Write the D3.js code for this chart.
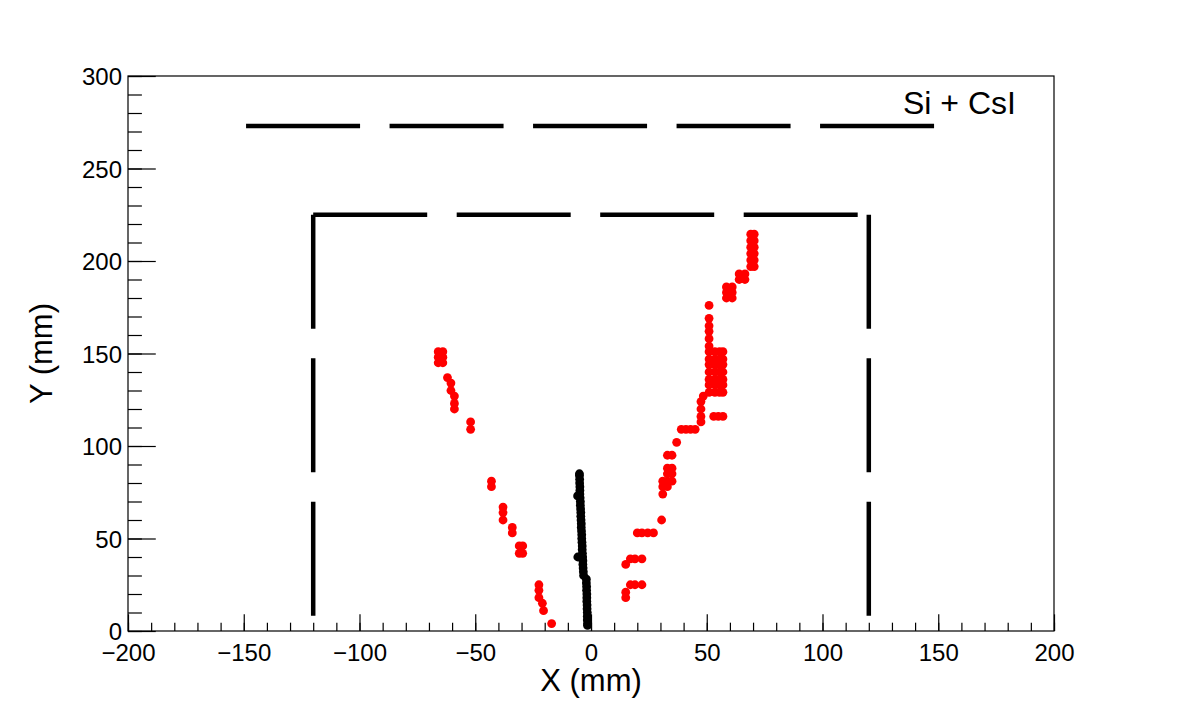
<!DOCTYPE html>
<html>
<head>
<meta charset="utf-8">
<script src="https://cdn.jsdelivr.net/npm/d3@7"></script>
<style>
  body { margin: 0; background: #fff; }
  text { font-family: "Liberation Sans", Arial, sans-serif; }
</style>
</head>
<body>
<script>
// Red hits (x, y in mm)
const redX = [
  -66, -64, -66, -64, -66, -64,
  -62, -60.5, -60.5, -59, -59, -59,
  -52, -52,
  -43, -43,
  -38, -38, -38,
  -34, -34,
  -31, -29.5, -31, -29.5,
  -22.5, -22.5, -22.5, -21, -20.5,
  -17,
  15, 15, 17, 19, 22,
  15, 17, 19, 22,
  20, 22, 24.5, 27,
  30.5,
  31, 31, 33, 31, 33, 35, 33, 35, 33, 35,
  33, 35,
  37,
  39, 41, 43, 45,
  47.5, 47.5, 53, 55, 57,
  47.5, 47.5, 48.5,
  51, 51, 51, 51, 51, 51, 51, 51, 51, 51, 51, 51, 51,
  53.5, 53.5, 53.5, 53.5, 53.5, 53.5, 53.5,
  55.5, 55.5, 55.5, 55.5, 55.5, 55.5, 55.5,
  57, 57, 57, 57, 57, 57, 57,
  58.5, 61, 58.5, 61, 58.5, 61,
  64, 66.5, 64, 66.5,
  69, 70.5, 69, 70.5, 69, 70.5, 69, 70.5, 69, 70.5, 69, 70.5
];
const redY = [
  151, 151, 148, 148, 145, 145,
  137, 134, 130, 127, 123, 120,
  113, 109,
  81, 78,
  67, 64, 60,
  56, 53,
  46, 46, 42, 42,
  25, 22, 18, 15, 11,
  4,
  18, 21, 25, 25, 25,
  36, 39, 39, 39,
  53, 53, 53, 53,
  60,
  74, 78, 78, 81, 81, 81, 85, 85, 88, 88,
  95, 95,
  102,
  109, 109, 109, 109,
  113, 116, 116, 116, 116,
  120, 124, 127,
  129, 133, 136, 140, 144, 147, 151, 154, 158, 162, 165, 169, 176,
  129, 133, 136, 140, 144, 147, 151,
  129, 133, 136, 140, 144, 147, 151,
  129, 133, 136, 140, 144, 147, 151,
  180, 180, 183, 183, 186, 186,
  190, 190, 193, 193,
  197, 197, 200.5, 200.5, 204, 204, 207.5, 207.5, 211, 211, 214.5, 214.5
];

// Black hits (x, y in mm)
const blackX = [
  -5.0, -5.0, -4.9, -4.9, -4.8, -4.8, -4.8, -5.8, -4.7, -4.6, -4.6, -4.5,
  -4.4, -4.4, -4.3, -4.2, -4.2, -4.1, -4.0, -4.0, -3.9, -3.8, -3.8, -3.7,
  -5.7, -3.6, -3.5, -3.5, -3.4, -3.3, -3.2, -2.0, -2.0, -1.9, -1.9, -1.8,
  -1.8, -1.8, -1.7, -1.7, -1.6, -1.6, -1.6, -1.5, -1.5
];
const blackY = [
  85, 84, 82, 80, 78, 76, 74, 73, 72, 70, 68, 66,
  64, 62, 60, 58, 56, 54, 52, 50, 48, 46, 44, 42,
  40, 40, 38, 36, 34, 32, 30, 28, 26, 24, 22, 20,
  18, 16, 14, 12, 10, 8, 6, 4, 3
];

// Detector outlines (mm), each side drawn as its own segment
const siCsiSegs = [[[-149, 273], [149, 273]]];
const boxSegs = [
  [[-120, 225], [-120, 0]],
  [[120, 225], [120, 0]],
  [[-120, 225], [120, 225]]
];

const xMajor = [-200, -150, -100, -50, 0, 50, 100, 150, 200];
const yMajor = [0, 50, 100, 150, 200, 250, 300];
const xMinor = d3.range(-200, 201, 10);
const yMinor = d3.range(0, 301, 10);

const W = 1182, H = 709;
const m = { left: 128, right: 128, top: 76, bottom: 78 };

const svg = d3.select("body").append("svg")
  .attr("width", W).attr("height", H);

const x = d3.scaleLinear().domain([-200, 200]).range([m.left, W - m.right]);
const y = d3.scaleLinear().domain([0, 300]).range([H - m.bottom, m.top]);

const pw = x(200) - x(-200), ph = y(0) - y(300);

// frame
svg.append("rect")
  .attr("x", x(-200)).attr("y", y(300))
  .attr("width", pw).attr("height", ph)
  .attr("fill", "none").attr("stroke", "#000").attr("stroke-width", 1.2);

// minor ticks
svg.append("g")
  .attr("transform", "translate(0," + y(0) + ")")
  .call(d3.axisBottom(x).tickValues(xMinor).tickSize(-ph * 0.015).tickFormat(""))
  .call(g => g.select(".domain").remove());
svg.append("g")
  .attr("transform", "translate(" + x(-200) + ",0)")
  .call(d3.axisLeft(y).tickValues(yMinor).tickSize(-pw * 0.015).tickFormat(""))
  .call(g => g.select(".domain").remove());

// major ticks + labels
const xa = svg.append("g")
  .attr("transform", "translate(0," + y(0) + ")")
  .call(d3.axisBottom(x).tickValues(xMajor).tickSize(-ph * 0.03).tickPadding(0))
  .call(g => g.select(".domain").remove());
xa.selectAll("text").attr("y", 30).attr("dy", 0).attr("font-size", 24)
  .attr("fill", "#000").style("font-family", "Liberation Sans, Arial, sans-serif");

const ya = svg.append("g")
  .attr("transform", "translate(" + x(-200) + ",0)")
  .call(d3.axisLeft(y).tickValues(yMajor).tickSize(-pw * 0.03).tickPadding(0))
  .call(g => g.select(".domain").remove());
ya.selectAll("text").attr("x", -6).attr("dy", "0.36em").attr("font-size", 24)
  .attr("fill", "#000").style("font-family", "Liberation Sans, Arial, sans-serif");

svg.selectAll(".tick line").attr("stroke", "#000").attr("stroke-width", 1.2);

// axis titles
svg.append("text")
  .attr("x", x(0)).attr("y", 691)
  .attr("text-anchor", "middle").attr("font-size", 31)
  .text("X (mm)");
svg.append("text")
  .attr("transform", "translate(52," + (y(150)) + ") rotate(-90)")
  .attr("text-anchor", "middle").attr("font-size", 31)
  .text("Y (mm)");

// detector outlines
const line = d3.line().x(d => x(d[0])).y(d => y(d[1]));
svg.append("g").selectAll("path")
  .data(siCsiSegs.concat(boxSegs))
  .join("path")
  .attr("d", line)
  .attr("fill", "none").attr("stroke", "#000").attr("stroke-width", 4.5)
  .attr("stroke-dasharray", "114,29.5");

svg.append("text")
  .attr("x", 903).attr("y", 114)
  .attr("font-size", 32)
  .text("Si + CsI");

// hits
svg.append("g").selectAll("circle")
  .data(redX.map((v, i) => [v, redY[i]]))
  .join("circle")
  .attr("cx", d => x(d[0])).attr("cy", d => y(d[1]))
  .attr("r", 4.4).attr("fill", "#ff0000");

svg.append("g").selectAll("circle")
  .data(blackX.map((v, i) => [v, blackY[i]]))
  .join("circle")
  .attr("cx", d => x(d[0])).attr("cy", d => y(d[1]))
  .attr("r", 4.4).attr("fill", "#000");
</script>
</body>
</html>
